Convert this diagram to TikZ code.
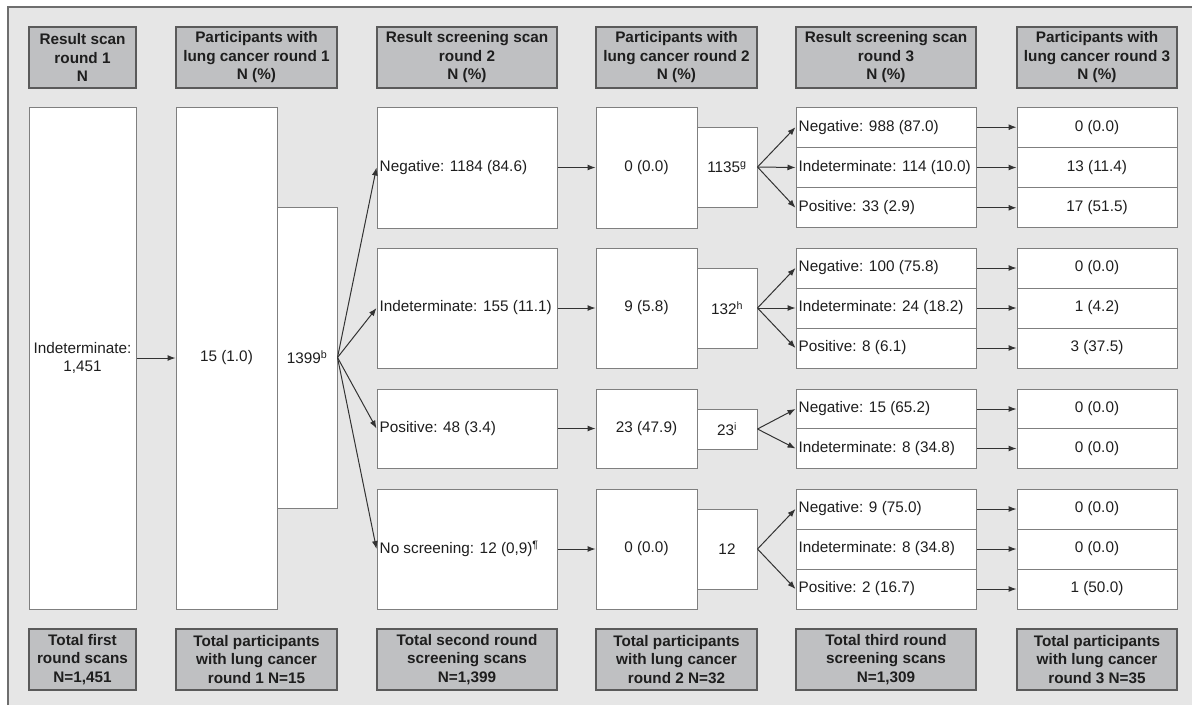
\documentclass[tikz,border=0pt]{standalone}
\usepackage{fontspec}
\setmainfont{Liberation Sans}
\usetikzlibrary{arrows.meta}
\definecolor{bg}{HTML}{E6E6E6}
\definecolor{hdr}{HTML}{BFC0C2}
\definecolor{hdrline}{HTML}{5A5A5A}
\definecolor{boxline}{HTML}{7F7F7F}
\definecolor{arr}{HTML}{333333}
\definecolor{txt}{HTML}{1E1E1E}
\definecolor{framecol}{HTML}{6E6E6E}
\begin{document}
\begin{tikzpicture}[x=1pt,y=-1pt,
  hdrbox/.style={draw=hdrline,line width=1.2pt,fill=hdr,align=center,inner sep=0pt,text=txt,
    font=\fontsize{15.3}{18.5}\selectfont\bfseries},
  wbox/.style={draw=boxline,line width=1pt,fill=white,inner sep=0pt,text=txt,
    font=\fontsize{15.3}{18}\selectfont,align=center},
  ltext/.style={anchor=west,inner sep=0pt,xshift=3pt,text=txt,font=\fontsize{15.3}{18}\selectfont},
  ctext/.style={text=txt,font=\fontsize{15.3}{18}\selectfont},
  flow/.style={draw=arr,line width=1pt,-{Latex[length=8pt,width=6pt]}},
]
\useasboundingbox (0,0) rectangle (1192,705);
\fill[bg] (8,7) rectangle (1192,705);
\draw[framecol,line width=1.5pt] (8,705) -- (8,7) -- (1192,7);

% headers
\node[hdrbox,minimum width=107pt,minimum height=61pt] (h1) at (82.5,57.5) {Result scan\\round 1\\N};
\node[hdrbox,minimum width=161pt,minimum height=61pt] (h2) at (256.5,57.5) {Participants with\\lung cancer round 1\\N (\%)};
\node[hdrbox,minimum width=180pt,minimum height=61pt] (h3) at (467,57.5) {Result screening scan\\round 2\\N (\%)};
\node[hdrbox,minimum width=161pt,minimum height=61pt] (h4) at (676.5,57.5) {Participants with\\lung cancer round 2\\N (\%)};
\node[hdrbox,minimum width=180pt,minimum height=61pt] (h5) at (886,57.5) {Result screening scan\\round 3\\N (\%)};
\node[hdrbox,minimum width=160pt,minimum height=61pt] (h6) at (1097,57.5) {Participants with\\lung cancer round 3\\N (\%)};

% footers
\node[hdrbox,minimum width=107pt,minimum height=61pt] (f1) at (82.5,659.5) {Total first\\round scans\\N=1,451};
\node[hdrbox,minimum width=161pt,minimum height=61pt] (f2) at (256.5,659.5) {Total participants\\with lung cancer\\round 1 N=15};
\node[hdrbox,minimum width=180pt,minimum height=61pt] (f3) at (467,659.5) {Total second round\\screening scans\\N=1,399};
\node[hdrbox,minimum width=161pt,minimum height=61pt] (f4) at (676.5,659.5) {Total participants\\with lung cancer\\round 2 N=32};
\node[hdrbox,minimum width=180pt,minimum height=61pt] (f5) at (886,659.5) {Total third round\\screening scans\\N=1,309};
\node[hdrbox,minimum width=160pt,minimum height=61pt] (f6) at (1097,659.5) {Total participants\\with lung cancer\\round 3 N=35};

% round 1
\node[wbox,minimum width=107pt,minimum height=502pt] (b1) at (82.5,358) {Indeterminate:\\1,451};
\node[wbox,minimum width=101pt,minimum height=502pt] (b2) at (226.5,358) {15 (1.0)};
\node[wbox,minimum width=60pt,minimum height=301pt] (b3) at (307,357.5) {1399\textsuperscript{b}};

% round 2 scans
\node[wbox,minimum width=180pt,minimum height=121pt] (r2a) at (467,167.5) {};
\node[wbox,minimum width=180pt,minimum height=120pt] (r2b) at (467,308) {};
\node[wbox,minimum width=180pt,minimum height=79pt] (r2c) at (467,428.5) {};
\node[wbox,minimum width=180pt,minimum height=120pt] (r2d) at (467,549) {};
\node[ltext] (r2at) at (r2a.west) {Negative: 1184 (84.6)};
\node[ltext] (r2bt) at (r2b.west) {Indeterminate: 155 (11.1)};
\node[ltext] (r2ct) at (r2c.west) {Positive: 48 (3.4)};
\node[ltext] (r2dt) at (r2d.west) {No screening: 12 (0,9)\textsuperscript{¶}};

% round 2 cancer
\node[wbox,minimum width=101pt,minimum height=121pt] (c2a) at (646.5,167.5) {0 (0.0)};
\node[wbox,minimum width=101pt,minimum height=120pt] (c2b) at (646.5,308) {9 (5.8)};
\node[wbox,minimum width=101pt,minimum height=79pt] (c2c) at (646.5,428.5) {23 (47.9)};
\node[wbox,minimum width=101pt,minimum height=120pt] (c2d) at (646.5,549) {0 (0.0)};
\node[wbox,minimum width=60pt,minimum height=80pt] (s1) at (727,167) {1135\textsuperscript{g}};
\node[wbox,minimum width=60pt,minimum height=80pt] (s2) at (727,308) {132\textsuperscript{h}};
\node[wbox,minimum width=60pt,minimum height=40pt] (s3) at (727,429) {23\textsuperscript{i}};
\node[wbox,minimum width=60pt,minimum height=80pt] (s4) at (727,549) {12};

% round 3 scans and cancer boxes
\foreach \n/\y/\h in {a1/127.2/40.3,a2/167.5/40.3,a3/207.8/40.3,
                      b1/268/40,b2/308/40,b3/348/40,
                      c1/409/40,c2/448.5/39.5,
                      d1/509/40,d2/549/40,d3/589/40}{
  \node[wbox,minimum width=180pt,minimum height=\h pt] (r3\n) at (886,\y) {};
  \node[wbox,minimum width=160pt,minimum height=\h pt] (c3\n) at (1097,\y) {};
}
\node[ltext] (t3a1) at (r3a1.west) {Negative: 988 (87.0)};
\node[ltext] (t3a2) at (r3a2.west) {Indeterminate: 114 (10.0)};
\node[ltext] (t3a3) at (r3a3.west) {Positive: 33 (2.9)};
\node[ltext] (t3b1) at (r3b1.west) {Negative: 100 (75.8)};
\node[ltext] (t3b2) at (r3b2.west) {Indeterminate: 24 (18.2)};
\node[ltext] (t3b3) at (r3b3.west) {Positive: 8 (6.1)};
\node[ltext] (t3c1) at (r3c1.west) {Negative: 15 (65.2)};
\node[ltext] (t3c2) at (r3c2.west) {Indeterminate: 8 (34.8)};
\node[ltext] (t3d1) at (r3d1.west) {Negative: 9 (75.0)};
\node[ltext] (t3d2) at (r3d2.west) {Indeterminate: 8 (34.8)};
\node[ltext] (t3d3) at (r3d3.west) {Positive: 2 (16.7)};

\node[ctext] (u3a1) at (c3a1) {0 (0.0)};
\node[ctext] (u3a2) at (c3a2) {13 (11.4)};
\node[ctext] (u3a3) at (c3a3) {17 (51.5)};
\node[ctext] (u3b1) at (c3b1) {0 (0.0)};
\node[ctext] (u3b2) at (c3b2) {1 (4.2)};
\node[ctext] (u3b3) at (c3b3) {3 (37.5)};
\node[ctext] (u3c1) at (c3c1) {0 (0.0)};
\node[ctext] (u3c2) at (c3c2) {0 (0.0)};
\node[ctext] (u3d1) at (c3d1) {0 (0.0)};
\node[ctext] (u3d2) at (c3d2) {0 (0.0)};
\node[ctext] (u3d3) at (c3d3) {1 (50.0)};

% arrows
\draw[flow] (b1.east) -- (b2.west |- b1.east);
\foreach \t in {r2a,r2b,r2c,r2d}{\draw[flow] (b3.east) -- (\t.west);}
\draw[flow] (r2a.east) -- (c2a.west);
\draw[flow] (r2b.east) -- (c2b.west);
\draw[flow] (r2c.east) -- (c2c.west);
\draw[flow] (r2d.east) -- (c2d.west);
\foreach \t in {a1,a2,a3}{\draw[flow] (s1.east) -- (r3\t.west);}
\foreach \t in {b1,b2,b3}{\draw[flow] (s2.east) -- (r3\t.west);}
\foreach \t in {c1,c2}{\draw[flow] (s3.east) -- (r3\t.west);}
\foreach \t in {d1,d3}{\draw[flow] (s4.east) -- (r3\t.west);}
\foreach \t in {a1,a2,a3,b1,b2,b3,c1,c2,d1,d2,d3}{\draw[flow] (r3\t.east) -- (c3\t.west);}
\end{tikzpicture}
\end{document}
